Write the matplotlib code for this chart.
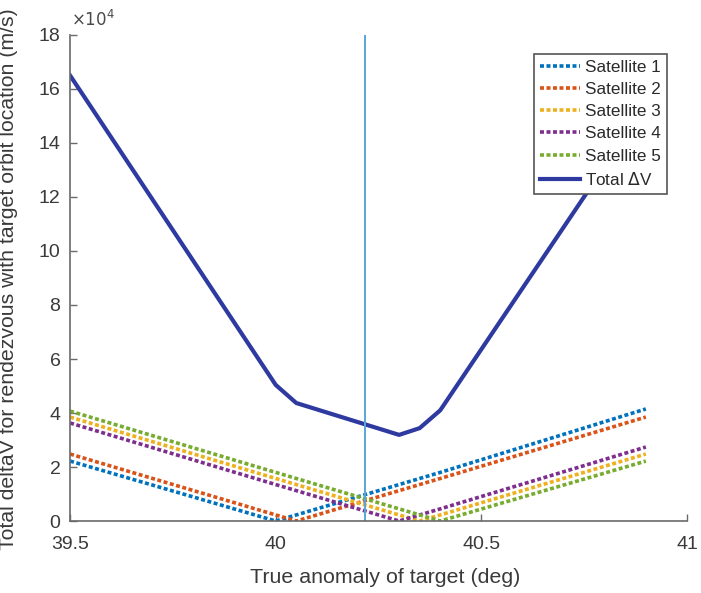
import matplotlib
matplotlib.use("Agg")
import matplotlib.pyplot as plt

plt.rcParams['font.family'] = ['Liberation Sans', 'DejaVu Sans']

true_anomaly = [39.5, 40.0, 40.05, 40.3, 40.35, 40.4, 40.9]
sat1 = [22200, 0, 2250, 13500, 15750, 18000, 41500]
sat2 = [24800, 2250, 0, 11250, 13500, 15750, 38500]
sat3 = [38500, 15750, 13500, 2250, 0, 2250, 24800]
sat4 = [36300, 13500, 11250, 0, 2250, 4500, 27400]
sat5 = [40700, 18000, 15750, 4500, 2250, 0, 22200]
total_dv = [165000, 50400, 43700, 31900, 34400, 41000, 154000]
selected_anomaly = 40.217

series_names = ['Satellite 1', 'Satellite 2', 'Satellite 3', 'Satellite 4', 'Satellite 5']
series_values = [sat1, sat2, sat3, sat4, sat5]
colors = ['#0072BD', '#D95319', '#EDB120', '#7E2F8E', '#77AC30']

fig = plt.figure(figsize=(7.01, 5.93), dpi=100)
ax = fig.add_axes([0.100, 0.1214, 0.880, 0.8196])

for name, vals, c in zip(series_names, series_values, colors):
    ax.plot(true_anomaly, vals, color=c, lw=2.6, linestyle=(0, (1.1, 0.7)), label=name)
ax.plot(true_anomaly, total_dv, color='#2E3A9F', lw=3.0, label='Total $\\Delta$V')
ax.axvline(selected_anomaly, color='#5AA5DA', lw=1.4)

ax.set_xlim(39.5, 41)
ax.set_ylim(0, 180000)
ax.set_xticks([39.5, 40, 40.5, 41])
ax.set_xticklabels(['39.5', '40', '40.5', '41'])
ax.set_yticks(range(0, 180001, 20000))
ax.set_yticklabels([str(v) for v in range(0, 19, 2)])

for s in ['top', 'right']:
    ax.spines[s].set_visible(False)
for s in ['left', 'bottom']:
    ax.spines[s].set_color('#6a6a6a')
    ax.spines[s].set_linewidth(1.2)
ax.tick_params(direction='in', length=5, width=1.0, color='#6a6a6a',
               labelsize=14, labelcolor='#3a3a3a')
ax.tick_params(axis='x', pad=11)
ax.tick_params(axis='y', pad=7)

ax.text(0.002, 1.012, '$\\times 10^4$', transform=ax.transAxes, fontsize=12,
        color='#4a4a4a', ha='left', va='bottom')

ax.set_xlabel('True anomaly of target (deg)', fontsize=15.4, color='#3a3a3a')
ax.xaxis.set_label_coords(0.511, -0.097)
ax.set_ylabel('Total deltaV for rendezvous with target orbit location (m/s)',
              fontsize=15.3, color='#3a3a3a')
ax.yaxis.set_label_coords(-0.085, 0.497)

leg = ax.legend(loc='upper right', bbox_to_anchor=(0.9675, 0.961), fontsize=12.3,
                frameon=True, fancybox=False, framealpha=1.0, edgecolor='#555555',
                handlelength=2.35, handletextpad=0.3, labelspacing=0.42,
                borderpad=0.35, borderaxespad=0.0)
leg.get_frame().set_linewidth(1.2)
for t in leg.get_texts():
    t.set_color('#2a2a2a')

fig.savefig('out.png', dpi=100)
